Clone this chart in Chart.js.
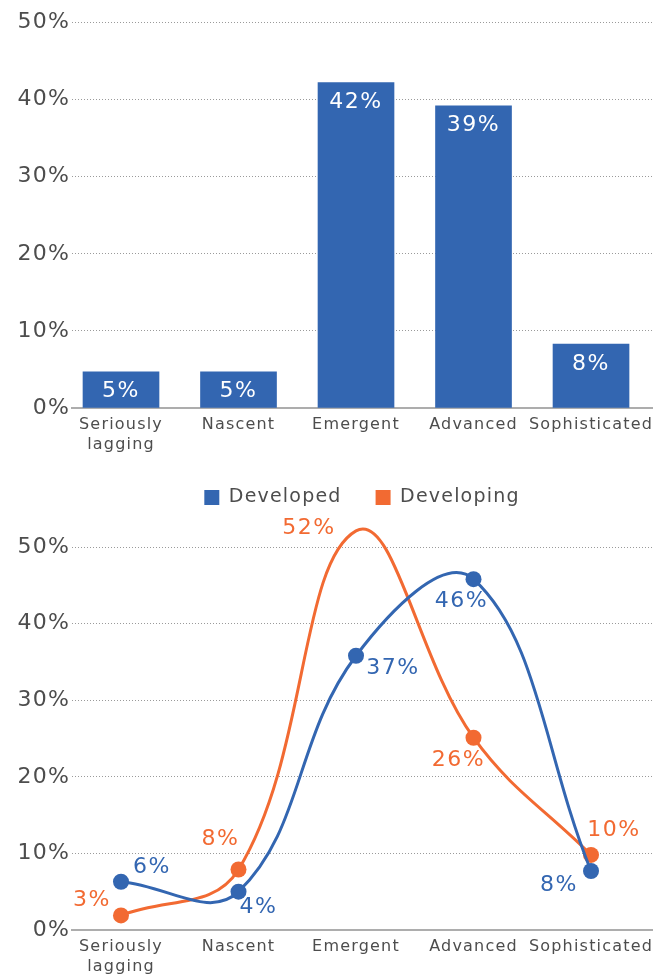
<!DOCTYPE html>
<html>
<head>
<meta charset="utf-8">
<script src="https://cdn.jsdelivr.net/npm/chart.js@4.4.1/dist/chart.umd.min.js"></script>
<style>
  html, body { margin: 0; padding: 0; background: #fff; }
  body { width: 662px; height: 974px; position: relative; overflow: hidden; }
  .box { position: absolute; left: 0; width: 662px; }
  #top-box { top: 0; height: 462px; }
  #bottom-box { top: 450px; height: 524px; }
</style>
</head>
<body>
<div class="box" id="top-box"><canvas id="barChart" width="662" height="462"></canvas></div>
<div class="box" id="bottom-box"><canvas id="lineChart" width="662" height="524"></canvas></div>
<script>
// categorias e ticks
const categories = ['Seriously lagging', 'Nascent', 'Emergent', 'Advanced', 'Sophisticated'];
const yTicks = [0, 10, 20, 30, 40, 50];

// barras: todas as economias
const barValues = [4.7, 4.7, 42.2, 39.2, 8.3];
const barLabels = ['5%', '5%', '42%', '39%', '8%'];

// linhas: desenvolvidas x em desenvolvimento
const seriesNames = ['Developed', 'Developing'];
const developedValues = [6.3, 5.0, 35.8, 45.8, 7.7];
const developedLabels = ['6%', '4%', '37%', '46%', '8%'];
const developingValues = [1.9, 7.9, 52.1, 25.1, 9.8];
const developingLabels = ['3%', '8%', '52%', '26%', '10%'];

const BLUE = '#3366b1';
const ORANGE = '#f26a32';
const TEXT = '#4d4d4d';

Chart.defaults.font.family = "'DejaVu Sans', sans-serif";
Chart.defaults.color = TEXT;

// espaçamento entre letras (a fonte original é bem larga)
const spacing = {
    id: 'spacing',
    beforeUpdate(chart) { chart.ctx.letterSpacing = '1.2px'; },
    beforeDraw(chart) { chart.ctx.letterSpacing = '1.2px'; }
};

// rótulos de valor desenhados à mão
const valueLabels = {
    id: 'valueLabels',
    afterDatasetsDraw(chart, args, opts) {
        const ctx = chart.ctx;
        chart.data.datasets.forEach((ds, di) => {
            const conf = opts.sets[di];
            chart.getDatasetMeta(di).data.forEach((el, i) => {
                const off = conf.offsets[i];
                ctx.save();
                ctx.font = opts.font;
                ctx.letterSpacing = '1.5px';
                ctx.fillStyle = conf.color;
                ctx.textAlign = 'center';
                ctx.textBaseline = 'middle';
                ctx.fillText(conf.texts[i], el.x + off[0], el.y + off[1]);
                ctx.restore();
            });
        });
    }
};

// espaço extra abaixo da legenda
const legendSpace = {
    id: 'legendSpace',
    beforeInit(chart, args, opts) {
        const fit = chart.legend.fit;
        chart.legend.fit = function() {
            fit.call(this);
            this.height += opts.extra;
        };
    }
};

const toPoints = values => values.map((v, i) => ({ x: i, y: v }));

function xAxis(height) {
    return {
        type: 'linear',
        offset: false,
        min: -0.417,
        max: 4.519,
        afterBuildTicks(scale) {
            scale.ticks = categories.map((c, i) => ({ value: i }));
        },
        afterFit(scale) { scale.height = height; },
        grid: { display: false, drawTicks: false, tickLength: 0, offset: false },
        border: { display: true, color: '#adadad', width: 2 },
        ticks: {
            autoSkip: false,
            maxRotation: 0,
            padding: 7,
            font: { size: 16, lineHeight: 1.25 },
            color: TEXT,
            callback: v => {
                const name = categories[v];
                return name === 'Seriously lagging' ? ['Seriously', 'lagging'] : name;
            }
        }
    };
}

function yAxis() {
    return {
        min: 0,
        max: 50,
        afterBuildTicks(scale) {
            scale.ticks = yTicks.map(v => ({ value: v }));
        },
        afterFit(scale) { scale.width = 72; },
        grid: { color: '#9a9a9a', lineWidth: 1, drawTicks: false },
        border: { display: false, dash: [1, 2] },
        ticks: {
            padding: 2,
            font: { size: 22 },
            color: TEXT,
            callback: v => v + '%'
        }
    };
}

// gráfico de barras
new Chart(document.getElementById('barChart'), {
    type: 'bar',
    data: {
        datasets: [{
            data: toPoints(barValues),
            backgroundColor: BLUE,
            barThickness: 76
        }]
    },
    options: {
        responsive: false,
        animation: false,
        layout: { padding: { top: 22.5, right: 10, left: 0, bottom: 0 } },
        scales: { x: xAxis(54), y: yAxis() },
        plugins: {
            legend: { display: false },
            tooltip: { enabled: false },
            valueLabels: {
                font: "22px 'DejaVu Sans'",
                sets: [{ color: '#ffffff', texts: barLabels, offsets: barLabels.map(() => [0, 20]) }]
            }
        }
    },
    plugins: [spacing, valueLabels]
});

// gráfico de linhas
new Chart(document.getElementById('lineChart'), {
    type: 'line',
    data: {
        datasets: [{
            label: seriesNames[0],
            data: toPoints(developedValues),
            borderColor: BLUE,
            backgroundColor: BLUE,
            borderWidth: 3,
            pointRadius: 8,
            pointBorderWidth: 0,
            tension: 0.4,
            clip: false
        }, {
            label: seriesNames[1],
            data: toPoints(developingValues),
            borderColor: ORANGE,
            backgroundColor: ORANGE,
            borderWidth: 3,
            pointRadius: 8,
            pointBorderWidth: 0,
            tension: 0.4,
            clip: false
        }]
    },
    options: {
        responsive: false,
        animation: false,
        layout: { padding: { top: 4, right: 10, left: 0, bottom: 0 } },
        elements: { line: { capBezierPoints: false } },
        scales: { x: xAxis(44), y: yAxis() },
        plugins: {
            legend: {
                position: 'top',
                fullSize: false,
                labels: {
                    boxWidth: 15,
                    boxHeight: 15,
                    padding: 34,
                    color: TEXT,
                    font: { size: 19 },
                    generateLabels: chart => Chart.defaults.plugins.legend.labels.generateLabels(chart)
                        .map(l => Object.assign(l, { lineWidth: 0 }))
                }
            },
            legendSpace: { extra: 30 },
            tooltip: { enabled: false },
            valueLabels: {
                font: "22px 'DejaVu Sans'",
                sets: [
                    { color: BLUE, texts: developedLabels,
                      offsets: [[31, -14], [20, 16], [37, 13], [-12, 22], [-32, 14]] },
                    { color: ORANGE, texts: developingLabels,
                      offsets: [[-29, -15], [-18, -30], [-47, -3], [-15, 23], [23, -25]] }
                ]
            }
        }
    },
    plugins: [spacing, valueLabels, legendSpace]
});
</script>
</body>
</html>
